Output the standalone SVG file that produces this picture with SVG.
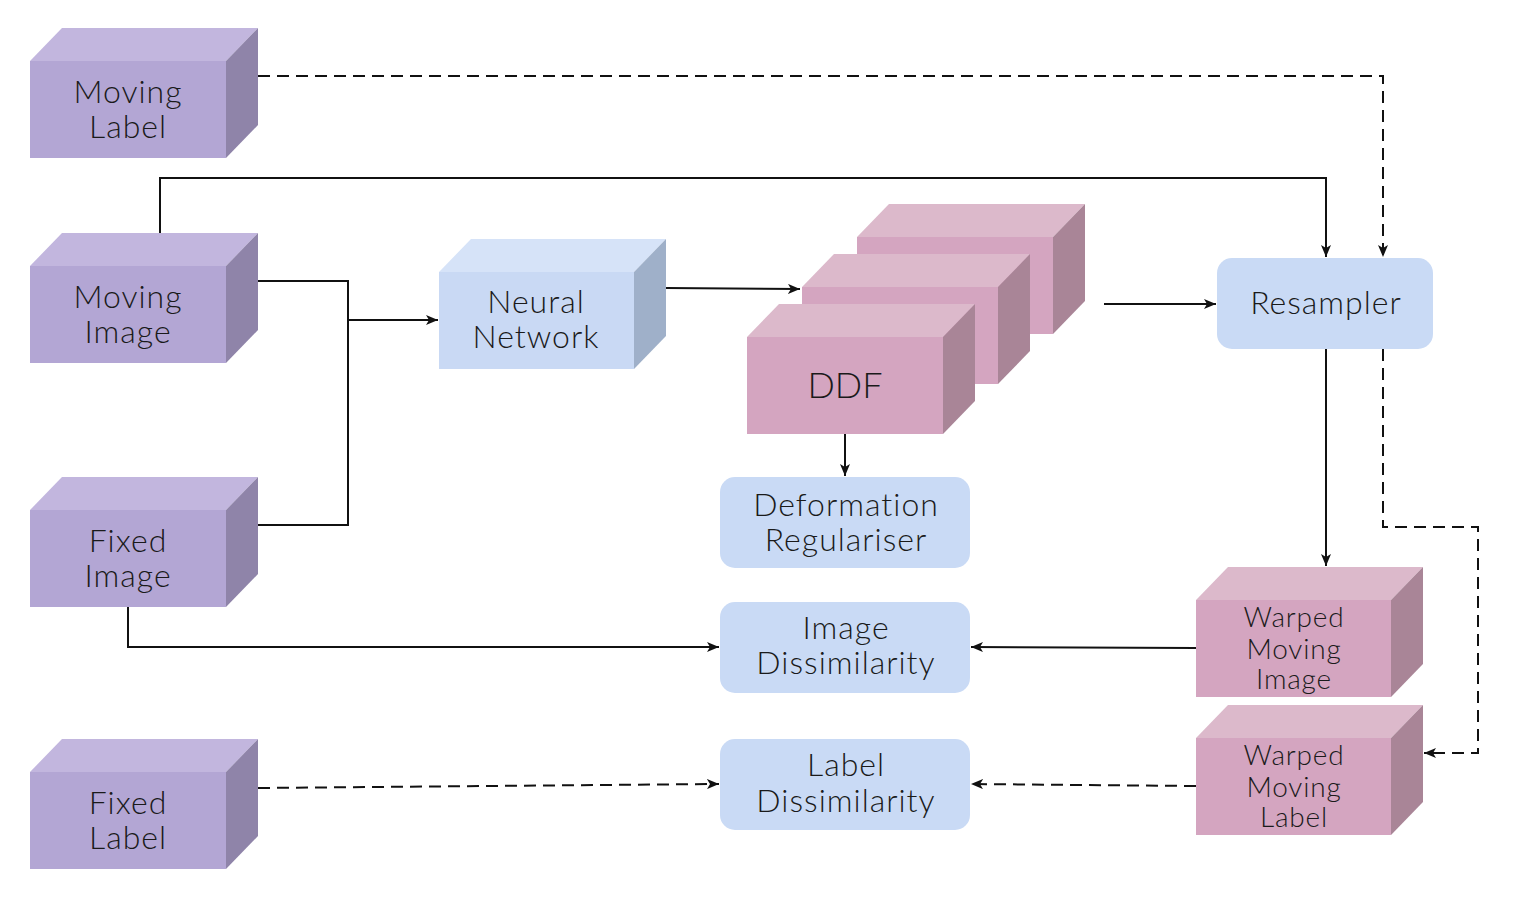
<svg xmlns="http://www.w3.org/2000/svg" width="1514" height="898" viewBox="0 0 1514 898">
<defs>
<marker id="ah" viewBox="0 0 12 10" refX="12" refY="5" markerWidth="12" markerHeight="10" markerUnits="userSpaceOnUse" orient="auto">
<path d="M0,0 L12,5 L0,10 L3,5 Z" fill="#111"/>
</marker>
</defs>
<style>
.pf{fill:#b3a6d4}.pt{fill:#c2b6de}.pr{fill:#8f84a9}
.kf{fill:#d4a5c0}.kt{fill:#dcb9cb}.kr{fill:#a98597}
.bf{fill:#c9d9f4}.bt{fill:#d6e3f8}.br{fill:#9fb0c9}
.rb{fill:#c9daf5}
text{font-family:Lato,"Noto Sans","Liberation Sans",sans-serif;font-weight:300;font-size:32px;letter-spacing:1px;fill:#1a1a1a;text-anchor:middle}
.sm{font-size:28px;letter-spacing:0.8px}
.big{font-size:36px;letter-spacing:0}
.c{fill:none;stroke:#111;stroke-width:2}
.d{stroke-dasharray:12,7}
</style>
<rect width="1514" height="898" fill="#fff"/>

<g id="conn">
<path class="c d" d="M258,76 H1383 V257" marker-end="url(#ah)"/>
<path class="c" d="M160,233 V178 H1326 V257" marker-end="url(#ah)"/>
<path class="c" d="M258,281 H348 V525 H258"/>
<path class="c" d="M348,320 H438" marker-end="url(#ah)"/>
<path class="c" d="M666,288 L800,289" marker-end="url(#ah)"/>
<path class="c" d="M1104,304 H1216" marker-end="url(#ah)"/>
<path class="c" d="M845,434 V476" marker-end="url(#ah)"/>
<path class="c" d="M1326,349 V566" marker-end="url(#ah)"/>
<path class="c d" d="M1383,349 V527 H1478 V753 H1424" marker-end="url(#ah)"/>
<path class="c" d="M128,606 V647 H719" marker-end="url(#ah)"/>
<path class="c" d="M1196,648 L971,647" marker-end="url(#ah)"/>
<path class="c d" d="M258,788 L719,784" marker-end="url(#ah)"/>
<path class="c d" d="M1196,786 L971,784" marker-end="url(#ah)"/>
</g>

<g id="moving-label">
<polygon class="pt" points="30,61 62,28 258,28 226,61"/>
<polygon class="pr" points="226,61 258,28 258,125 226,158"/>
<rect class="pf" x="30" y="61" width="196" height="97"/>
<text x="128" y="103">Moving</text><text x="128" y="138">Label</text>
</g>

<g id="moving-image">
<polygon class="pt" points="30,266 62,233 258,233 226,266"/>
<polygon class="pr" points="226,266 258,233 258,330 226,363"/>
<rect class="pf" x="30" y="266" width="196" height="97"/>
<text x="128" y="308">Moving</text><text x="128" y="343">Image</text>
</g>

<g id="fixed-image">
<polygon class="pt" points="30,510 62,477 258,477 226,510"/>
<polygon class="pr" points="226,510 258,477 258,574 226,607"/>
<rect class="pf" x="30" y="510" width="196" height="97"/>
<text x="128" y="552">Fixed</text><text x="128" y="587">Image</text>
</g>

<g id="fixed-label">
<polygon class="pt" points="30,772 62,739 258,739 226,772"/>
<polygon class="pr" points="226,772 258,739 258,836 226,869"/>
<rect class="pf" x="30" y="772" width="196" height="97"/>
<text x="128" y="814">Fixed</text><text x="128" y="849">Label</text>
</g>

<g id="neural-network">
<polygon class="bt" points="439,272 471,239 666,239 634,272"/>
<polygon class="br" points="634,272 666,239 666,336 634,369"/>
<rect class="bf" x="439" y="272" width="195" height="97"/>
<text x="536" y="313">Neural</text><text x="536" y="348">Network</text>
</g>

<g id="ddf">
<polygon class="kt" points="857,237 889,204 1085,204 1053,237"/>
<polygon class="kr" points="1053,237 1085,204 1085,301 1053,334"/>
<rect class="kf" x="857" y="237" width="196" height="97"/>
<polygon class="kt" points="802,287 834,254 1030,254 998,287"/>
<polygon class="kr" points="998,287 1030,254 1030,351 998,384"/>
<rect class="kf" x="802" y="287" width="196" height="97"/>
<polygon class="kt" points="747,337 779,304 975,304 943,337"/>
<polygon class="kr" points="943,337 975,304 975,401 943,434"/>
<rect class="kf" x="747" y="337" width="196" height="97"/>
<text class="big" x="845" y="398">DDF</text>
</g>

<g id="resampler">
<rect class="rb" x="1217" y="258" width="216" height="91" rx="15"/>
<text x="1326" y="314">Resampler</text>
</g>

<g id="deformation-regulariser">
<rect class="rb" x="720" y="477" width="250" height="91" rx="15"/>
<text x="846" y="516">Deformation</text><text x="846" y="551">Regulariser</text>
</g>

<g id="image-dissimilarity">
<rect class="rb" x="720" y="602" width="250" height="91" rx="15"/>
<text x="846" y="639">Image</text><text x="846" y="674">Dissimilarity</text>
</g>

<g id="label-dissimilarity">
<rect class="rb" x="720" y="739" width="250" height="91" rx="15"/>
<text x="846" y="776">Label</text><text x="846" y="812">Dissimilarity</text>
</g>

<g id="warped-moving-image">
<polygon class="kt" points="1196,600 1228,567 1423,567 1391,600"/>
<polygon class="kr" points="1391,600 1423,567 1423,664 1391,697"/>
<rect class="kf" x="1196" y="600" width="195" height="97"/>
<text class="sm" x="1294" y="627">Warped</text><text class="sm" x="1294" y="659">Moving</text><text class="sm" x="1294" y="689">Image</text>
</g>

<g id="warped-moving-label">
<polygon class="kt" points="1196,738 1228,705 1423,705 1391,738"/>
<polygon class="kr" points="1391,738 1423,705 1423,802 1391,835"/>
<rect class="kf" x="1196" y="738" width="195" height="97"/>
<text class="sm" x="1294" y="765">Warped</text><text class="sm" x="1294" y="797">Moving</text><text class="sm" x="1294" y="827">Label</text>
</g>
</svg>
